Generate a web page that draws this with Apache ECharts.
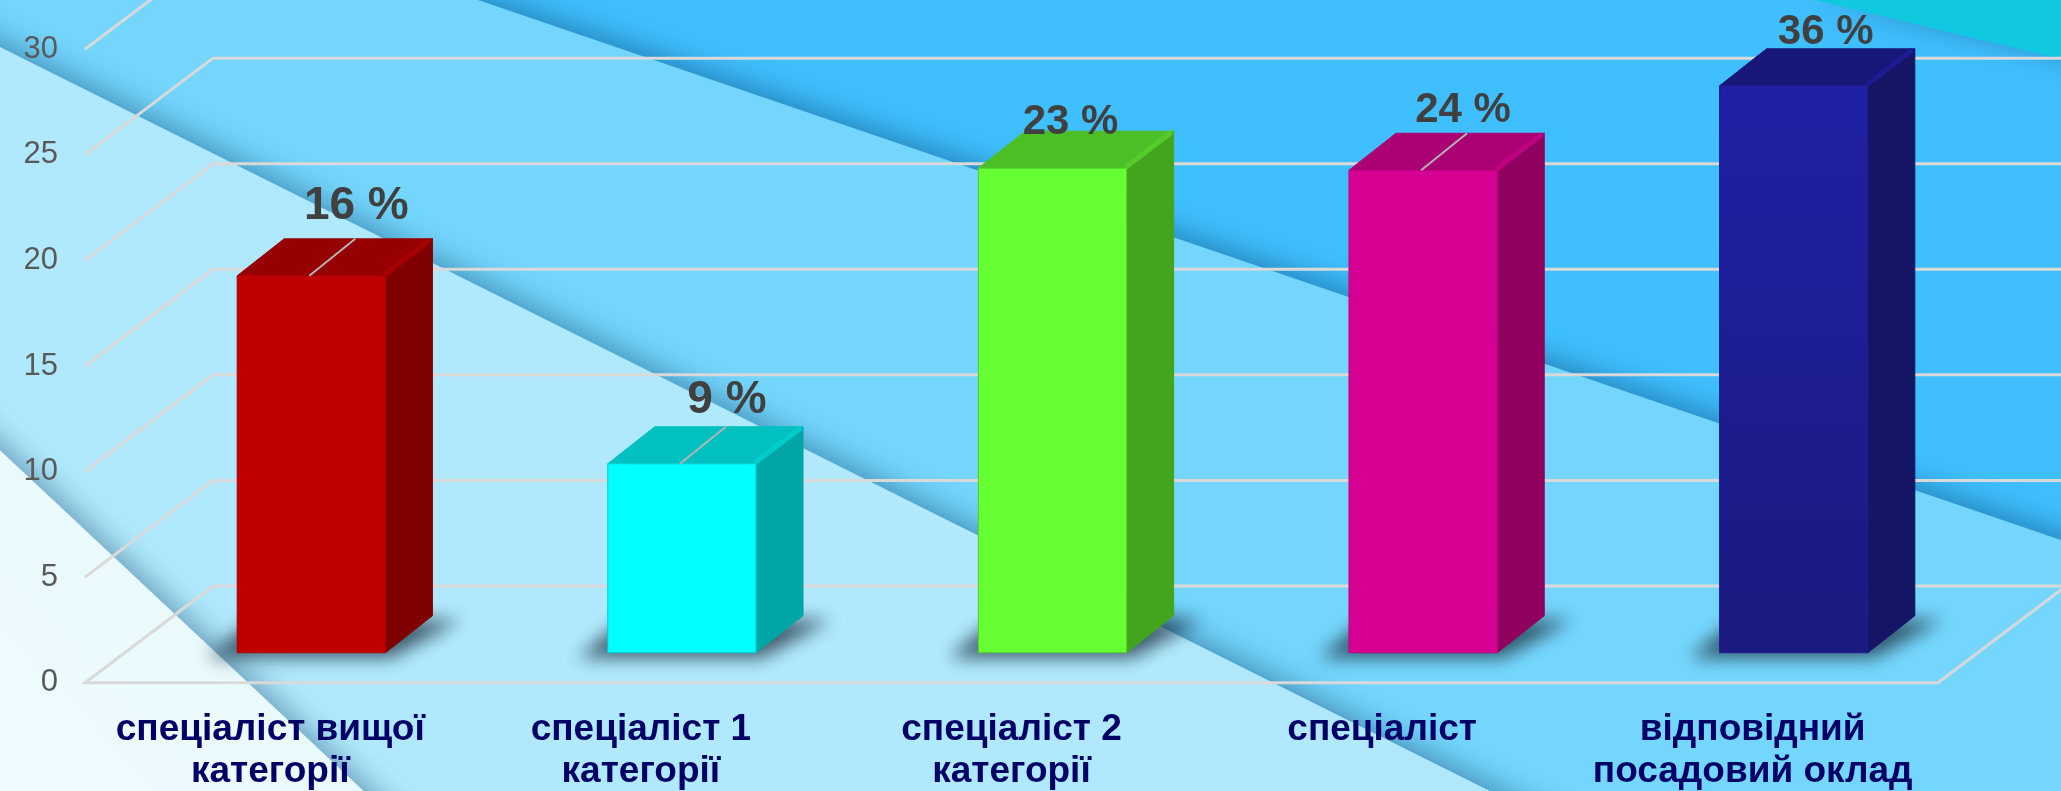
<!DOCTYPE html>
<html>
<head>
<meta charset="utf-8">
<title>chart</title>
<style>
  html, body { margin: 0; padding: 0; background: #3fbffe; }
  #chart { width: 2061px; height: 791px; }
</style>
<script src="https://cdn.jsdelivr.net/npm/echarts@6/dist/echarts.min.js"></script>
</head>
<body>
<div id="chart"></div>
<script>
const categories = ['спеціаліст вищої\nкатегорії', 'спеціаліст 1\nкатегорії', 'спеціаліст 2\nкатегорії', 'спеціаліст', 'відповідний\nпосадовий оклад']
const barValues = [17.85, 8.95, 22.95, 22.85, 26.85]
const barLabels = ['16 %', '9 %', '23 %', '24 %', '36 %']
const yTicks = [0, 5, 10, 15, 20, 25, 30]

// кольори граней: front, side, top, bevel
const barColors = [
  ['#c00000', '#7f0000', '#960000', '#a80000'],
  ['#00ffff', '#00a5a5', '#00c0c0', '#00cccc'],
  ['#66ff33', '#43a41e', '#4dbf26', '#55cc2a'],
  ['#d60093', '#8f005f', '#ab0073', '#bf0080'],
  ['#1f1fa0', '#151565', '#17177a', '#1c1c90']
]
// зсув підпису від центра верхнього ребра, розмір шрифту, чи є виноска
const labelPlace = [
  { dx: 45, dy: -70, size: 46, leader: true },
  { dx: 45, dy: -63, size: 46, leader: true },
  { dx: 18, dy: -46, size: 42, leader: false },
  { dx: 40, dy: -60, size: 42, leader: true },
  { dx: 32, dy: -53, size: 42, leader: false }
]

const wallX = 128
const wallY = -96.7
const floorX = 41
const floorY = -30
const depthX = 47
const depthY = -37

const myChart = echarts.init(document.getElementById('chart'))

function band(points, fill, z) {
  return {
    type: 'polygon',
    silent: true,
    z: z,
    shape: { points: points },
    style: {
      fill: fill,
      shadowBlur: 30,
      shadowColor: 'rgba(0, 45, 85, 0.42)',
      shadowOffsetX: 3,
      shadowOffsetY: -5
    }
  }
}

function renderWall(params, api) {
  const band = api.size([1, 0])[0]
  const p = api.coord([0, api.value(0)])
  const left = p[0] - band / 2
  const right = left + band * categories.length
  const lineStyle = { stroke: '#d9d9d9', lineWidth: 3, fill: null }
  let points = [[left, p[1]], [left + wallX, p[1] + wallY], [right + wallX, p[1] + wallY]]
  if (api.value(0) === 0) {
    points = [[left + wallX, p[1] + wallY], [left, p[1]], [right, p[1]], [right + wallX, p[1] + wallY], [left + wallX, p[1] + wallY]]
  }
  return { type: 'polyline', shape: { points: points }, style: lineStyle, silent: true }
}

function renderBar(params, api) {
  const i = params.dataIndex
  const top = api.coord([api.value(0), api.value(1)])
  const base = api.coord([api.value(0), 0])
  const w = api.size([1, 0])[0] * 0.4
  const x0 = top[0] - w / 2 + floorX
  const x1 = x0 + w
  const yt = top[1] + floorY
  const yb = base[1] + floorY
  const c = barColors[i]
  const place = labelPlace[i]
  const cx = (x0 + x1) / 2
  // тінь малюється за межами полотна, видно лише розмитий відбиток
  const off = 3000
  const children = [
    {
      type: 'polygon',
      shape: { points: [[x0 - 30 - off, yb + 5], [x1 + 6 - off, yb + 5], [x1 + depthX + 28 - off, yb + depthY + 4], [x0 + depthX - 30 - off, yb + depthY + 4]] },
      style: { fill: '#000', shadowBlur: 18, shadowColor: 'rgba(30, 50, 65, 0.78)', shadowOffsetX: off }
    },
    {
      type: 'polygon',
      shape: { points: [[x1, yt], [x1 + depthX, yt + depthY], [x1 + depthX, yb + depthY], [x1, yb]] },
      style: { fill: c[1], stroke: c[1], lineWidth: 1, lineJoin: 'round' }
    },
    {
      type: 'polygon',
      shape: { points: [[x0, yt], [x0 + depthX, yt + depthY], [x1 + depthX, yt + depthY], [x1, yt]] },
      style: { fill: c[2], stroke: c[2], lineWidth: 1, lineJoin: 'round' }
    },
    {
      type: 'line',
      shape: { x1: x1 - 1, y1: yt - 1, x2: x1 + depthX - 2, y2: yt + depthY + 1 },
      style: { stroke: c[3], lineWidth: 5 }
    },
    {
      type: 'polygon',
      shape: { points: [[x0, yt], [x1, yt], [x1, yb], [x0, yb]] },
      style: {
        fill: i === 4
          ? new echarts.graphic.LinearGradient(0, 0, 0, 1, [{ offset: 0, color: '#2020a4' }, { offset: 1, color: '#1a1a80' }])
          : c[0],
        stroke: c[3],
        lineWidth: 1,
        lineJoin: 'round'
      }
    }
  ]
  if (place.leader) {
    children.push({
      type: 'line',
      shape: { x1: cx - 2, y1: yt, x2: cx + 44, y2: yt + depthY },
      style: { stroke: '#b4b4b4', lineWidth: 2 }
    })
  }
  children.push({
    type: 'text',
    style: {
      text: barLabels[i],
      x: cx + place.dx,
      y: yt + place.dy,
      align: 'center',
      verticalAlign: 'middle',
      fill: '#404040',
      font: 'bold ' + place.size + 'px "Liberation Sans"'
    }
  })
  return { type: 'group', children: children }
}

myChart.setOption({
  animation: false,
  backgroundColor: '#3fbffe',
  textStyle: { fontFamily: 'Liberation Sans' },
  graphic: {
    elements: [
      band([[1815, 0], [2120, 0], [2120, 73]], '#10c8e0', 0),
      band([[478, 0], [2120, 560], [2120, 900], [-60, 900], [-60, 0]], '#74d6fd', 1),
      band([[-60, 17], [1560, 826], [1560, 900], [-60, 900]], '#b0e9fd', 2),
      band([[-60, 394], [-60, 900], [480, 900]], new echarts.graphic.LinearGradient(0, 1, 1, 0, [
        { offset: 0, color: '#f2fcfe' },
        { offset: 1, color: '#e0f7fc' }
      ]), 3)
    ]
  },
  grid: { left: 85, right: 123, top: 49.3, bottom: 108.3, outerBoundsMode: 'none' },
  xAxis: {
    type: 'category',
    z: 6,
    data: categories,
    axisLine: { show: false },
    axisTick: { show: false },
    axisLabel: {
      interval: 0,
      margin: 26,
      color: '#000066',
      fontWeight: 'bold',
      fontSize: 37,
      lineHeight: 42,
      fontFamily: 'Liberation Sans'
    }
  },
  yAxis: {
    type: 'value',
    z: 6,
    min: 0,
    max: 30,
    interval: 5,
    splitLine: { show: false },
    axisLine: { show: false },
    axisTick: { show: false },
    axisLabel: {
      margin: 27,
      color: '#595959',
      fontSize: 31,
      fontFamily: 'Liberation Sans'
    }
  },
  series: [
    {
      type: 'custom',
      name: 'walls',
      z: 4,
      silent: true,
      renderItem: renderWall,
      encode: { y: 0 },
      data: yTicks.map(t => [t])
    },
    {
      type: 'custom',
      name: 'bars',
      z: 5,
      silent: true,
      renderItem: renderBar,
      encode: { x: 0, y: 1 },
      data: barValues.map((v, i) => [i, v])
    }
  ]
})
</script>
</body>
</html>
